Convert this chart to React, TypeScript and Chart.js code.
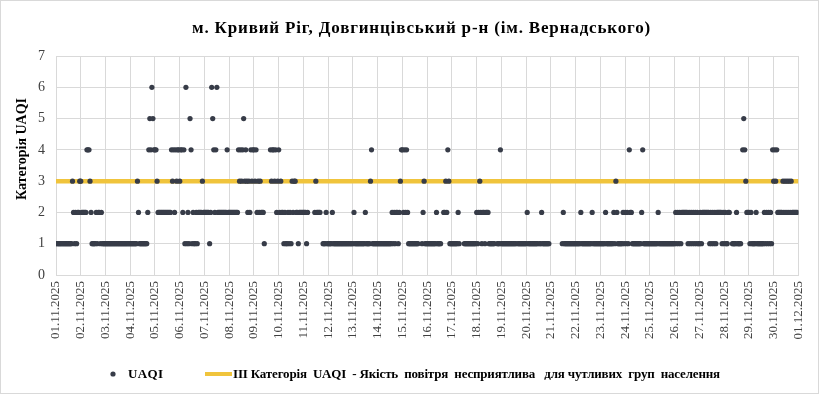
import React, { useEffect, useRef } from "react";
import { Chart, registerables } from "chart.js";

Chart.register(...registerables);

const FONT = "'Liberation Serif', 'Times New Roman', serif";

const titleText = "м. Кривий Ріг, Довгинцівський р-н (ім. Вернадського)";
const yAxisTitle = "Категорія UAQI";
const seriesName = "UAQI";
const thresholdName =
  "III Категорія  UAQI  - Якість  повітря  несприятлива   для чутливих  груп  населення";

// Category (tick) labels, one per day boundary
const dateLabels = [
  "01.11.2025", "02.11.2025", "03.11.2025", "04.11.2025", "05.11.2025",
  "06.11.2025", "07.11.2025", "08.11.2025", "09.11.2025", "10.11.2025",
  "11.11.2025", "12.11.2025", "13.11.2025", "14.11.2025", "15.11.2025",
  "16.11.2025", "17.11.2025", "18.11.2025", "19.11.2025", "20.11.2025",
  "21.11.2025", "22.11.2025", "23.11.2025", "24.11.2025", "25.11.2025",
  "26.11.2025", "27.11.2025", "28.11.2025", "29.11.2025", "30.11.2025",
  "01.12.2025",
];

const yTickValues = [0, 1, 2, 3, 4, 5, 6, 7];

// Hourly UAQI category per day (24 hours, grouped by 6); "-" = no data
const hourlyUAQI = [
  "111111 111111 111132 121223", // 01.11
  "322222 444321 111212 212111", // 02.11
  "111111 111111 111111 111111", // 03.11
  "111111 132111 111112 454654", // 04.11
  "443222 222222 222243 424344", // 05.11
  "344241 612154 121121 222232", // 06.11
  "222221 265424 622222 222242", // 07.11
  "222222 222434 345343 232434", // 08.11
  "434232 32221- ----43 443423", // 09.11
  "423221 211212 132332 212222", // 10.11
  "22212- -----2 32222- -11121", // 11.11
  "111121 111111 111111 111111", // 12.11
  "121111 111111 211113 411111", // 13.11
  "111111 111111 112121 221234", // 14.11
  "424242 111111 1111-- -12311", // 15.11
  "111111 111211 11--22 324311", // 16.11
  "111111 21---- 111111 111111", // 17.11
  "212321 221222 111111 --1114", // 18.11
  "111111 111111 111-11 111111", // 19.11
  "121111 111111 -11211 11111-", // 20.11
  "------ -----1 211111 111111", // 21.11
  "111112 111111 111121 111111", // 22.11
  "111112 111111 121321 111121", // 23.11
  "212142 211111 111124 111111", // 24.11
  "111111 112111 111111 111111", // 25.11
  "121212 122222 212121 212121", // 26.11
  "121222 222212 121212 222212", // 27.11
  "121122 --1111 21111- 454322", // 28.11
  "212111 121111 111212 121214", // 29.11
  "343422 222323 232323 222222", // 30.11
];

const thresholdValue = 3;

const DOT_COLOR = "#373c48";
const LINE_COLOR = "#f0c43c";
const GRID_COLOR = "#d9d9d9";
const TICK_COLOR = "#404040";

function buildPoints() {
  const pts: { x: number; y: number }[] = [];
  hourlyUAQI.forEach((row, d) => {
    const cells = row.replace(/\s+/g, "");
    for (let h = 0; h < cells.length; h++) {
      const c = cells[h];
      if (c !== "-") pts.push({ x: d * 24 + h, y: Number(c) });
    }
  });
  return pts;
}

// draw text with letter spacing chosen so the text spans `width` px
function fitText(
  ctx: CanvasRenderingContext2D,
  text: string,
  x: number,
  y: number,
  width: number
) {
  const c: any = ctx;
  c.letterSpacing = "0px";
  const w = ctx.measureText(text).width;
  const sp = (width - w) / Math.max(1, text.length - 1);
  c.letterSpacing = `${sp.toFixed(2)}px`;
  ctx.fillText(text, x, y);
  c.letterSpacing = "0px";
}

const decorPlugin = {
  id: "decor",
  afterDraw(chart: any) {
    const ctx = chart.ctx as CanvasRenderingContext2D;
    ctx.save();
    ctx.strokeStyle = GRID_COLOR;
    ctx.lineWidth = 1;
    ctx.strokeRect(0.5, 0.5, 818, 393);

    ctx.fillStyle = "#000";
    ctx.textAlign = "left";
    ctx.textBaseline = "middle";
    ctx.font = `bold 17px ${FONT}`;
    fitText(ctx, titleText, 192, 28.5, 458);

    ctx.save();
    ctx.translate(22, 200);
    ctx.rotate(-Math.PI / 2);
    ctx.font = `bold 14px ${FONT}`;
    fitText(ctx, yAxisTitle, 0, 0, 102);
    ctx.restore();

    // legend
    const ly = 374;
    ctx.fillStyle = DOT_COLOR;
    ctx.beginPath();
    ctx.arc(113, ly, 2.6, 0, Math.PI * 2);
    ctx.fill();
    ctx.fillStyle = "#000";
    ctx.font = `bold 13px ${FONT}`;
    fitText(ctx, seriesName, 128, ly + 1, 35);
    ctx.strokeStyle = LINE_COLOR;
    ctx.lineWidth = 4;
    ctx.beginPath();
    ctx.moveTo(205, ly);
    ctx.lineTo(232, ly);
    ctx.stroke();
    fitText(ctx, thresholdName, 233, ly + 1, 487);
    ctx.restore();
  },
};

export default function App() {
  const ref = useRef<HTMLCanvasElement | null>(null);

  useEffect(() => {
    if (!ref.current) return;
    const points = buildPoints();
    const maxX = (dateLabels.length - 1) * 24;
    const chart = new Chart(ref.current, {
      type: "scatter",
      data: {
        datasets: [
          {
            label: seriesName,
            data: points,
            pointRadius: 2.6,
            pointBackgroundColor: DOT_COLOR,
            pointBorderWidth: 0,
            order: 1,
          },
          {
            label: thresholdName,
            data: [
              { x: 0, y: thresholdValue },
              { x: maxX, y: thresholdValue },
            ],
            showLine: true,
            borderColor: LINE_COLOR,
            borderWidth: 4.5,
            pointRadius: 0,
            order: 2,
          },
        ],
      },
      options: {
        animation: false,
        responsive: false,
        layout: { padding: { left: 0, right: 17, top: 56, bottom: 0 } },
        plugins: {
          legend: { display: false },
          tooltip: { enabled: false },
          title: { display: false },
        },
        scales: {
          x: {
            type: "linear",
            min: 0,
            max: maxX,
            afterFit: (s: any) => {
              s.height = 120;
            },
            afterBuildTicks: (s: any) => {
              s.ticks = dateLabels.map((_, i) => ({ value: i * 24 }));
            },
            ticks: {
              autoSkip: false,
              minRotation: 90,
              maxRotation: 90,
              padding: 6,
              color: TICK_COLOR,
              font: { family: FONT, size: 13 },
              callback: (v: any) => dateLabels[Math.round(Number(v) / 24)],
            },
            grid: { color: GRID_COLOR, drawTicks: false, lineWidth: 1 },
            border: { color: GRID_COLOR },
          },
          y: {
            min: 0,
            max: 7,
            afterFit: (s: any) => {
              s.width = 56;
            },
            afterBuildTicks: (s: any) => {
              s.ticks = yTickValues.map((v) => ({ value: v }));
            },
            ticks: {
              padding: 11,
              color: TICK_COLOR,
              font: { family: FONT, size: 14 },
            },
            grid: { color: GRID_COLOR, drawTicks: false, lineWidth: 1 },
            border: { color: GRID_COLOR },
          },
        },
      },
      plugins: [decorPlugin],
    });
    return () => chart.destroy();
  }, []);

  return (
    <div style={{ position: "absolute", left: 0, top: 0, width: 820, height: 395, background: "#fff" }}>
      <canvas ref={ref} width={820} height={395} style={{ width: 820, height: 395, display: "block" }} />
    </div>
  );
}
